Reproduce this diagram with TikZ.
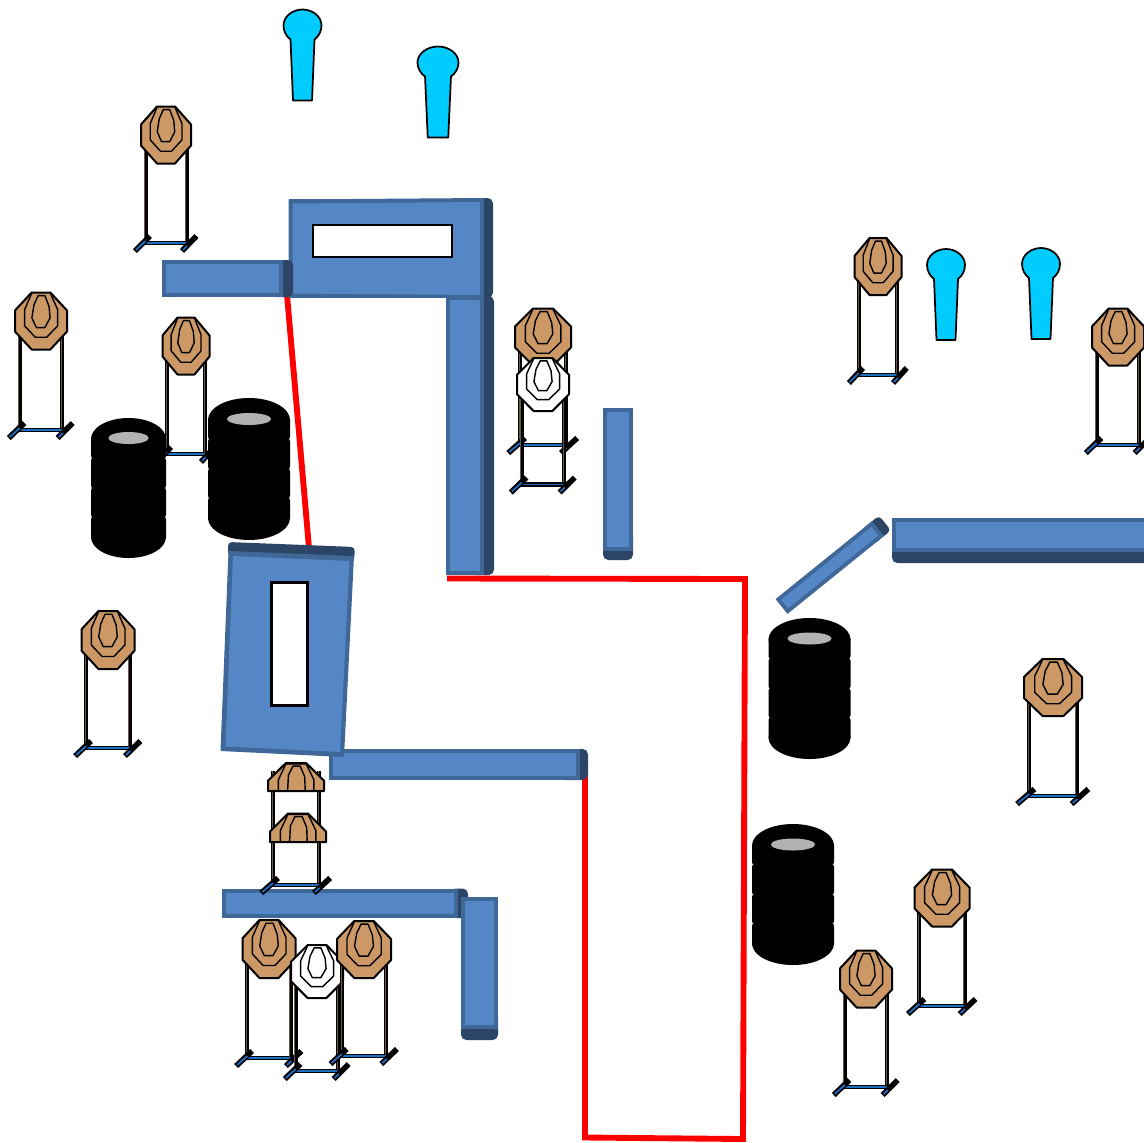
\documentclass[tikz,border=0pt]{standalone}
\definecolor{wallfill}{HTML}{5586C6}
\definecolor{wallmid}{HTML}{3F6899}
\definecolor{walldark}{HTML}{2C4466}
\definecolor{targetbrown}{HTML}{CC9966}
\definecolor{pawncyan}{HTML}{00CCFF}
\definecolor{barblue}{HTML}{1F6FC4}
\definecolor{postcore}{HTML}{6B5A45}
\definecolor{tiregrey}{HTML}{B2B2B2}
\tikzset{
  octline/.style={draw=black,line width=1.5pt,line join=round},
  ringline/.style={draw=black,line width=1.05pt,line join=round},
  postouter/.style={draw=black,line width=3pt},
  postinner/.style={draw=postcore,line width=.7pt},
  barouter/.style={draw=black,line width=3.2pt,line cap=round},
  footouter/.style={draw=black,line width=4.2pt},
  barinner/.style={draw=barblue,line width=1.3pt},
  pawnshape/.style={draw=black,line width=1.3pt,fill=pawncyan,line join=round},
  windowbox/.style={draw=black,line width=1.6pt,fill=white},
  redroute/.style={draw=red,line width=4.4pt,line join=miter},
}
% cx, hw, top of posts, base
\newcommand\standat[4]{%
  \begin{scope}[shift={(#1,0)},xscale=#2]
    \foreach \sx in {-0.82,0.82}{
      \draw[postouter] (\sx,#3) -- (\sx,#4);
      \draw[postinner] ({\sx-.03},#3) -- ({\sx-.03},#4);
    }
    \draw[barouter] (-0.82,#4) -- (0.82,#4);
    \draw[barinner] (-0.82,#4) -- (0.82,#4);
    \draw[footouter] (-1.24,{#4+8}) -- (-0.64,{#4-7});
    \draw[footouter] (0.64,{#4+8}) -- (1.22,{#4-7});
    \draw[barinner] (-1.2,{#4+7}) -- (-0.82,{#4-2});
    \draw[barinner] (0.68,{#4+7}) -- (0.84,{#4+3});
  \end{scope}}
% cx, cy, hw, hh, fill
\newcommand\octat[5]{%
  \begin{scope}[shift={(#1,#2)},xscale=#3,yscale=#4]
    \path[octline,fill=#5] (-1,-.37) -- (-.36,-1) -- (.36,-1) -- (1,-.37) -- (1,.37) -- (.36,1) -- (-.36,1) -- (-1,.37) -- cycle;
    \path[ringline] (-.36,-.97) -- (-.63,-.4) -- (-.63,.17) -- (-.22,.57) -- (.22,.57) -- (.64,.17) -- (.64,-.4) -- (.36,-.97);
    \path[ringline] (-.11,-.89) -- (.15,-.89) -- (.31,-.51) -- (.35,-.11) -- (.15,.23) -- (-.18,.23) -- (-.35,-.11) -- (-.27,-.57) -- cycle;
  \end{scope}}
% cut-off target: cx, cy (flat bottom), hw, hh
\newcommand\halfoctat[4]{%
  \begin{scope}[shift={(#1,#2)},xscale=#3,yscale=#4]
    \path[octline,fill=targetbrown] (-1,0) -- (-1,-.37) -- (-.36,-1) -- (.36,-1) -- (1,-.37) -- (1,0) -- cycle;
    \path[ringline] (-.63,0) -- (-.63,-.4) -- (-.36,-.97) -- (.36,-.97) -- (.64,-.4) -- (.64,0);
    \path[ringline] (-.3,0) -- (-.27,-.57) -- (-.11,-.89) -- (.15,-.89) -- (.31,-.51) -- (.33,0);
  \end{scope}}
% cx, cy, hw, hh, base, fill
\newcommand\targetat[6]{%
  \standat{#1}{#3}{#2}{#5}%
  \octat{#1}{#2}{#3}{#4}{#6}}
% cx, cy of head, x scale
\newcommand\pawnat[3]{%
  \begin{scope}[shift={(#1,#2)},xscale=#3]
    \path[pawnshape] (-12,14) .. controls (-16,11) and (-19,6) .. (-19,0) .. controls (-19,-9) and (-10,-16) .. (0,-16) .. controls (10,-16) and (19,-9) .. (19,0) .. controls (19,6) and (16,11) .. (12,14) -- (9.5,75) -- (-9.5,75) -- cycle;
  \end{scope}}
% cx, top, rx, ry
\newcommand\tiresat[4]{%
  \begin{scope}[shift={(#1,{#2+#4})}]
    \fill[black,rounded corners=2pt] (-#3,-3) rectangle (#3,19.5);
    \fill[black,rounded corners=2pt] (-#3,18.5) rectangle (#3,49.5);
    \fill[black,rounded corners=2pt] (-#3,48.5) rectangle (#3,78.5);
    \fill[black,rounded corners=2pt] (-#3,77.5) rectangle (#3,101);
    \fill[black] ({-#3+2},0) rectangle ({#3-2},98);
    \fill[black] (0,0) ellipse [x radius=#3, y radius=#4];
    \fill[black] (0,98) ellipse [x radius=#3, y radius=#4];
    \fill[tiregrey] (0,-1) ellipse [x radius={#3*.54}, y radius=6];
  \end{scope}}
% dark x0,y0,x1,y1 then mid x0,y0,x1,y1
\newcommand\wallat[8]{%
  \fill[walldark,rounded corners=4pt] (#1,#2) rectangle (#3,#4);
  \fill[wallmid] (#5,#6) rectangle (#7,#8);
  \fill[wallfill] ({#5+4},{#6+4}) rectangle ({#7-4},{#8-4});}
\begin{document}
\begin{tikzpicture}[x=.75pt,y=-.75pt]
\useasboundingbox (0,0) rectangle (1144,1142);
\clip (0,0) rectangle (1144,1142);

% red route
\draw[redroute] (287,295) -- (309,548);
\draw[redroute] (447,578.5) -- (745,579) -- (743,1139) -- (585,1137.5) -- (585,775);

% walls
\wallat{470}{296}{494}{575}{445.5}{296}{484}{575}
\wallat{470}{198}{493}{298}{288.5}{199}{484}{298}
\fill[wallmid] (288.5,199.5) -- (484,198) -- (484,298) -- (288.5,296.5) -- cycle;
\fill[wallfill] (292.5,203.5) -- (480,202) -- (480,295) -- (292.5,293.5) -- cycle;
\draw[windowbox] (313,225) rectangle (452,257);
\wallat{270}{260}{293}{297}{162}{260}{283}{297}
\wallat{603}{530}{633}{560}{602.5}{408}{632.5}{551}
\wallat{892}{530}{1160}{563}{892}{518}{1160}{552}
\begin{scope}[shift={(781.5,606.5)},rotate=38.9]
  \fill[walldark,rounded corners=3pt] (110,-9.5) rectangle (133,9.5);
  \fill[wallmid] (0,-9.5) rectangle (124,9.5);
  \fill[wallfill] (4,-5.5) rectangle (120,5.5);
\end{scope}
\wallat{560}{749}{588}{780}{329}{749}{580}{780}
\wallat{450}{888.5}{468}{918}{222}{888.5}{458}{918}
\wallat{461}{1010}{498}{1040}{461}{897}{498}{1029}
\fill[walldark,rounded corners=3pt] (228,542) -- (355,547) -- (354,562) -- (228,556) -- cycle;
\fill[wallmid] (228.5,551) -- (354,556) -- (344,757) -- (220.5,751) -- cycle;
\fill[wallfill] (233,556) -- (349.5,561) -- (340,752) -- (225.5,746.5) -- cycle;
\draw[windowbox] (271.5,582.5) rectangle (307.5,705.5);

% targets
\targetat{166}{135}{25}{28.5}{243}{targetbrown}
\targetat{41}{321}{26}{28.5}{430}{targetbrown}
\targetat{186}{346}{23.5}{28.5}{454}{targetbrown}
\targetat{543}{337}{28}{28.5}{445}{targetbrown}
\targetat{543}{384.5}{26}{26.5}{484.5}{white}
\targetat{108}{640}{26.5}{29}{748}{targetbrown}
\targetat{878}{266.5}{23.5}{28.5}{375}{targetbrown}
\targetat{1118}{337}{26}{28.5}{445}{targetbrown}
\targetat{1053}{687.5}{29}{28.5}{796}{targetbrown}
\targetat{942}{898}{27.5}{28.5}{1006}{targetbrown}
\targetat{866}{979}{26}{28.5}{1087}{targetbrown}
\targetat{269}{949}{26.5}{29}{1058}{targetbrown}
\targetat{317}{971.5}{26}{26.5}{1071}{white}
\targetat{364}{949.5}{27}{28.5}{1056}{targetbrown}
\standat{296}{28}{771}{885}
\halfoctat{296}{791}{28}{28}
\halfoctat{298}{842}{28}{28.5}

% tyre stacks
\tiresat{128.5}{418}{37.5}{21}
\tiresat{249}{398}{41}{22}
\tiresat{809.5}{618}{41}{21.5}
\tiresat{793}{824}{41}{21.5}

% figures
\pawnat{302.5}{25.5}{1}
\pawnat{438}{62.5}{1.08}
\pawnat{946}{265}{1}
\pawnat{1041}{264}{1}
\end{tikzpicture}
\end{document}
